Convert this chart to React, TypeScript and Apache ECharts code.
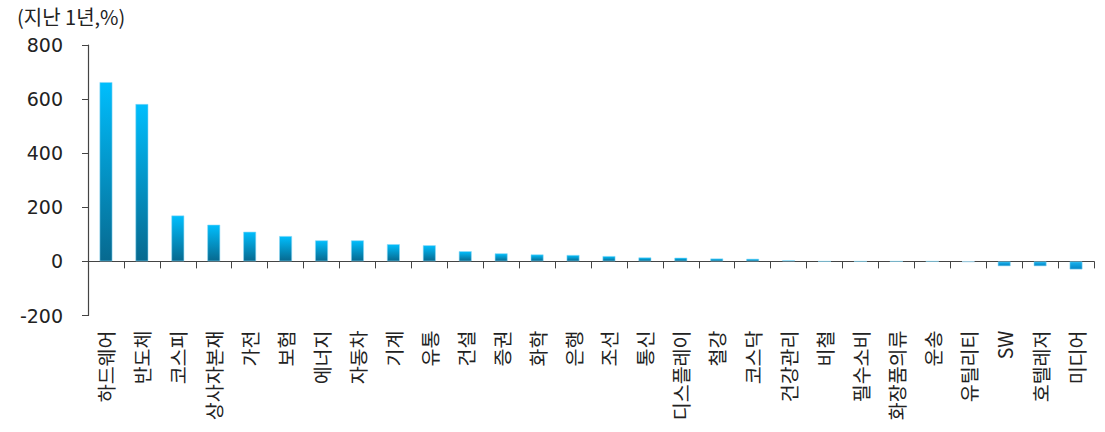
import React, { useEffect, useRef } from "react";
import * as echarts from "echarts";

const categories = [
  "하드웨어", "반도체", "코스피", "상사자본재", "가전", "보험", "에너지", "자동차", "기계", "유통",
  "건설", "증권", "화학", "은행", "조선", "통신", "디스플레이", "철강", "코스닥", "건강관리",
  "비철", "필수소비", "화장품의류", "운송", "유틸리티", "SW", "호텔레저", "미디어",
];
const returns1Y = [
  663, 582, 170, 136, 110, 94, 78, 78, 64, 60,
  38, 30, 26, 24, 20, 15, 14, 11, 10, 4,
  0, 0, 0, 0, -2, -18, -18, -30,
];
const yTicks = { min: -200, max: 800, interval: 200 };
const unitLabel = "(지난 1년,%)";

const FONT = "'Noto Sans CJK KR', 'Noto Sans', sans-serif";
const NUMFONT = "'DejaVu Sans', 'Noto Sans CJK KR', sans-serif";

export default function App() {
  const ref = useRef<HTMLDivElement>(null);
  useEffect(() => {
    document.body.style.margin = "0";
    if (!ref.current) return;
    const chart = echarts.init(ref.current, null, { renderer: "svg" });
    const posGrad = new echarts.graphic.LinearGradient(0, 0, 0, 1, [
      { offset: 0, color: "#00BEFD" },
      { offset: 1, color: "#07698F" },
    ]);
    const negGrad = new echarts.graphic.LinearGradient(0, 0, 0, 1, [
      { offset: 0, color: "#19B4F0" },
      { offset: 1, color: "#0385C4" },
    ]);
    chart.setOption({
      animation: false,
      backgroundColor: "#ffffff",
      graphic: [
        {
          type: "text",
          x: 17,
          y: 16,
          style: {
            text: unitLabel,
            fontFamily: FONT,
            fontSize: 20,
            fill: "#222",
            verticalAlign: "middle",
            align: "left",
          },
        },
      ],
      grid: { left: 88, right: 11, top: 45, bottom: 116.5 },
      xAxis: [
        {
          type: "category",
          data: categories,
          axisLine: { onZero: true, lineStyle: { color: "#444", width: 1.2 } },
          axisTick: { show: true, interval: 0, length: 7, lineStyle: { color: "#444" } },
          axisLabel: { show: false },
        },
        {
          type: "category",
          data: categories,
          position: "bottom",
          axisLine: { show: false, onZero: false },
          axisTick: { show: false },
          axisLabel: {
            interval: 0,
            rotate: 90,
            margin: 15,
            fontFamily: FONT,
            fontSize: 19.5,
            color: "#222",
          },
        },
      ],
      yAxis: {
        type: "value",
        min: yTicks.min,
        max: yTicks.max,
        interval: yTicks.interval,
        splitLine: { show: false },
        axisLine: { show: true, lineStyle: { color: "#444", width: 1.2 } },
        axisTick: { show: true, length: 6, lineStyle: { color: "#444" } },
        axisLabel: { margin: 25, fontFamily: NUMFONT, fontSize: 19, color: "#222" },
      },
      series: [
        {
          type: "bar",
          xAxisIndex: 0,
          barWidth: 13,
          data: returns1Y.map((v) => ({
            value: v,
            itemStyle: {
              color: v >= 0 ? posGrad : negGrad,
              borderColor: v > -5 && v < 0 ? "#A8D8EE" : "rgba(140,215,245,0.7)",
              borderWidth: 0.8,
            },
          })),
        },
      ],
    });
    return () => chart.dispose();
  }, []);
  return <div ref={ref} style={{ width: 1105, height: 432 }} />;
}
